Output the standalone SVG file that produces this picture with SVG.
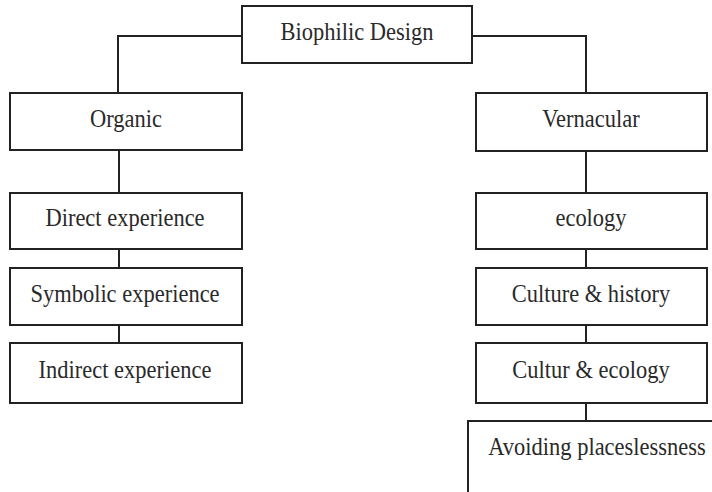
<svg xmlns="http://www.w3.org/2000/svg" width="712" height="492" viewBox="0 0 712 492">
<style>
.box{fill:#fff;stroke:#222;stroke-width:2}
.lbl{font-family:"Liberation Serif","Times New Roman",serif;font-size:22.5px;fill:#2a2a2a;text-anchor:middle}
.con{fill:none;stroke:#222;stroke-width:2}
</style>
<rect width="712" height="492" fill="#fff"/>
<g id="connectors">
<polyline class="con" points="242,36 118,36 118,93"/>
<polyline class="con" points="472,36 586,36 586,93"/>
<line class="con" x1="119" y1="150" x2="119" y2="193"/>
<line class="con" x1="119" y1="249" x2="119" y2="268"/>
<line class="con" x1="119" y1="325" x2="119" y2="343"/>
<line class="con" x1="586" y1="151" x2="586" y2="193"/>
<line class="con" x1="586" y1="249" x2="586" y2="268"/>
<line class="con" x1="586" y1="325" x2="586" y2="343"/>
<line class="con" x1="586" y1="403" x2="586" y2="421"/>
</g>
<g id="biophilic"><rect class="box" x="242" y="6" width="230" height="57"/><text class="lbl" transform="translate(357,40) scale(1,1.12)">Biophilic Design</text></g>
<g id="organic"><rect class="box" x="10" y="93" width="232" height="57"/><text class="lbl" transform="translate(126,127) scale(1,1.12)">Organic</text></g>
<g id="direct"><rect class="box" x="10" y="193" width="232" height="56"/><text class="lbl" transform="translate(125,226) scale(1,1.12)">Direct experience</text></g>
<g id="symbolic"><rect class="box" x="10" y="268" width="232" height="57"/><text class="lbl" transform="translate(125,302) scale(1,1.12)">Symbolic experience</text></g>
<g id="indirect"><rect class="box" x="10" y="343" width="232" height="60"/><text class="lbl" transform="translate(125,378) scale(1,1.12)">Indirect experience</text></g>
<g id="vernacular"><rect class="box" x="476" y="93" width="231" height="58"/><text class="lbl" transform="translate(591,127) scale(1,1.12)">Vernacular</text></g>
<g id="ecology"><rect class="box" x="476" y="193" width="231" height="56"/><text class="lbl" transform="translate(591,226) scale(1,1.12)">ecology</text></g>
<g id="culture-history"><rect class="box" x="476" y="268" width="231" height="57"/><text class="lbl" transform="translate(591,302) scale(1,1.12)">Culture &amp; history</text></g>
<g id="cultur-ecology"><rect class="box" x="476" y="343" width="231" height="60"/><text class="lbl" transform="translate(591,378) scale(1,1.12)">Cultur &amp; ecology</text></g>
<g id="avoiding"><rect class="box" x="468" y="421" width="260" height="100"/><text class="lbl" transform="translate(597,455) scale(1,1.12)">Avoiding placeslessness</text></g>
</svg>
